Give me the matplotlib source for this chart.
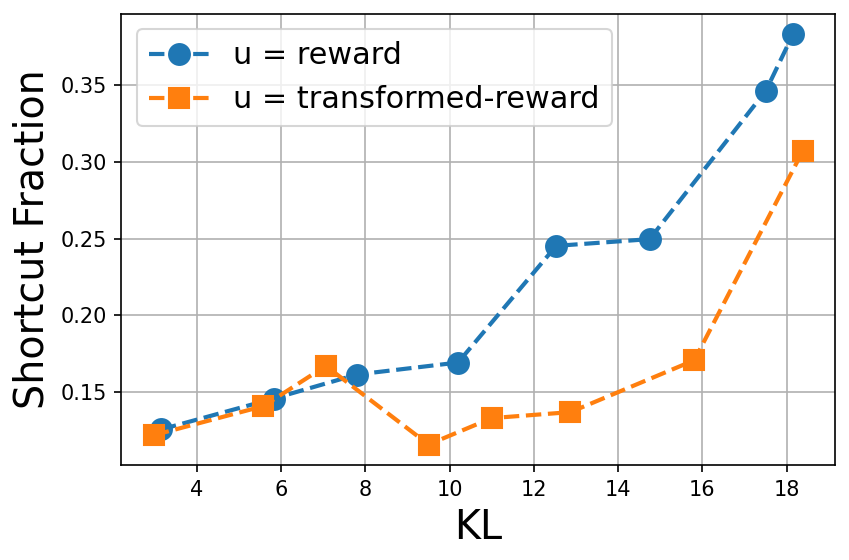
import numpy as np
import matplotlib
matplotlib.use("Agg")
import matplotlib.pyplot as plt

# values
kl_reward = [3.15, 5.82, 7.80, 10.20, 12.53, 14.75, 17.51, 18.15]
frac_reward = [0.1256, 0.1457, 0.1614, 0.1692, 0.2452, 0.2496, 0.3463, 0.3829]

kl_transformed = [2.98, 5.58, 7.06, 9.50, 11.00, 12.87, 15.81, 18.38]
frac_transformed = [0.1219, 0.1408, 0.1670, 0.1158, 0.1330, 0.1369, 0.1707, 0.3067]

fig = plt.figure(figsize=(849/150, 560/150), dpi=150)
ax = fig.add_subplot(111)

ax.plot(kl_reward, frac_reward, 'o--', lw=2, markersize=10, label='u = reward')
ax.plot(kl_transformed, frac_transformed, 's--', lw=2, markersize=10, label='u = transformed-reward')

ax.set_xlabel('KL', fontsize=19)
ax.set_ylabel('Shortcut Fraction', fontsize=19)
ax.grid(True)
ax.legend(fontsize=14.5)

fig.subplots_adjust(left=121.5/849, right=835/849, top=1-14/560, bottom=1-465/560)
fig.savefig('out.png', dpi=150)
